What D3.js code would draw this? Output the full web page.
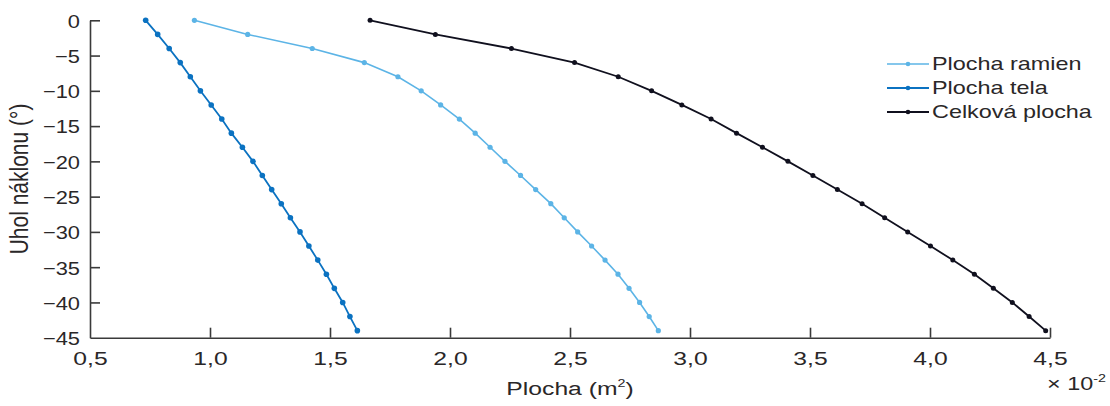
<!DOCTYPE html>
<html>
<head>
<meta charset="utf-8">
<script src="https://cdn.jsdelivr.net/npm/d3@7"></script>
<style>
  body { margin: 0; background: #fff; }
  svg text { font-family: "Liberation Sans", Arial, sans-serif; fill: #2a2728; }
</style>
</head>
<body>
<div id="chart"></div>
<script>
// tilt angle (deg) and areas (x 10^-2 m2)
let angles = [0, -2, -4, -6, -8, -10, -12, -14, -16, -18, -20, -22, -24, -26, -28, -30, -32, -34, -36, -38, -40, -42, -44]
let plochaRamien = [0.935, 1.157, 1.426, 1.643, 1.783, 1.880, 1.961, 2.039, 2.105, 2.167, 2.229, 2.294, 2.357, 2.420, 2.476, 2.532, 2.590, 2.646, 2.700, 2.746, 2.790, 2.830, 2.868]
let plochaTela = [0.732, 0.782, 0.830, 0.876, 0.918, 0.960, 1.005, 1.049, 1.089, 1.135, 1.179, 1.218, 1.257, 1.297, 1.335, 1.375, 1.412, 1.449, 1.485, 1.518, 1.553, 1.583, 1.614]
let celkovaPlocha = [1.667, 1.939, 2.256, 2.519, 2.701, 2.840, 2.966, 3.088, 3.194, 3.302, 3.408, 3.512, 3.614, 3.717, 3.811, 3.907, 4.002, 4.095, 4.185, 4.264, 4.343, 4.413, 4.482]
let xTicks = [0.5, 1.0, 1.5, 2.0, 2.5, 3.0, 3.5, 4.0, 4.5]
let yTicks = [0, -5, -10, -15, -20, -25, -30, -35, -40, -45]
let seriesNames = ['Plocha ramien', 'Plocha tela', 'Celková plocha']
let seriesColors = ['#5cb4e6', '#0b72c1', '#10101e']

let width = 1110, height = 406
let margin = {left: 90, right: 60, top: 20, bottom: 69}
// the reference text is drawn wider than plain Arial
let sx = 1.3

let svg = d3.select('#chart').append('svg')
    .attr('width', width)
    .attr('height', height)

let x = d3.scaleLinear().domain([0.5, 4.5]).range([margin.left, width - margin.right])
let y = d3.scaleLinear().domain([0, -45]).range([margin.top + 0.3, height - margin.bottom + 0.7])

let fmt = d => d3.format('.1f')(d).replace('.', ',')

// x axis, ticks pointing inward
let xAxis = svg.append('g')
    .attr('transform', `translate(0,${y(-45)})`)
    .call(d3.axisBottom(x).tickValues(xTicks).tickSize(-10).tickFormat(fmt).tickSizeOuter(0))
xAxis.selectAll('text')
    .attr('y', 0).attr('dy', 0)
    .attr('transform', `translate(0,27) scale(${sx},1)`)
    .style('font-size', '19px')

let yAxis = svg.append('g')
    .attr('transform', `translate(${x(0.5)},0)`)
    .call(d3.axisLeft(y).tickValues(yTicks).tickSize(-10).tickSizeOuter(0))
yAxis.selectAll('text')
    .attr('x', 0).attr('dy', '0.36em')
    .attr('transform', `translate(-10,0) scale(1.15,1)`)
    .style('font-size', '19px')

svg.selectAll('.domain').attr('stroke', '#3a3a3a').attr('stroke-width', 1.6)
svg.selectAll('.tick line').attr('stroke', '#3a3a3a').attr('stroke-width', 1.6)
// the corner ticks sit on the other axis, hide them
xAxis.selectAll('.tick').filter(d => d == 0.5).select('line').remove()
yAxis.selectAll('.tick').filter(d => d == -45).select('line').remove()

// lines + markers
let allSeries = [plochaRamien, plochaTela, celkovaPlocha]
let line = d3.line().x(d => x(d[0])).y(d => y(d[1]))
let widths = [1.6, 1.8, 1.8]
let radius = [2.6, 2.8, 2.5]

allSeries.forEach((vals, i) => {
    let pts = vals.map((v, k) => [v, angles[k]])
    svg.append('path')
        .datum(pts)
        .attr('d', line)
        .attr('fill', 'none')
        .attr('stroke', seriesColors[i])
        .attr('stroke-width', widths[i])
    svg.append('g').selectAll('circle')
        .data(pts)
        .enter()
        .append('circle')
        .attr('cx', d => x(d[0]))
        .attr('cy', d => y(d[1]))
        .attr('r', radius[i])
        .attr('fill', seriesColors[i])
})

// legend
let legend = svg.append('g').attr('transform', 'translate(887,64)')
seriesNames.forEach((name, i) => {
    let row = legend.append('g').attr('transform', `translate(0,${i * 24})`)
    row.append('line')
        .attr('x1', 0).attr('x2', 42)
        .attr('y1', 0).attr('y2', 0)
        .attr('stroke', seriesColors[i])
        .attr('stroke-width', widths[i])
    row.append('circle').attr('cx', 21).attr('cy', 0).attr('r', 2.3).attr('fill', seriesColors[i])
    row.append('text')
        .attr('transform', `translate(45,0) scale(${sx},1)`)
        .attr('dy', '0.36em')
        .style('font-size', '18px')
        .text(name)
})

// axis titles
svg.append('text')
    .attr('transform', `translate(28,${(y(0) + y(-45)) / 2}) rotate(-90) scale(1.05,1.25)`)
    .attr('text-anchor', 'middle')
    .style('font-size', '20px')
    .text('Uhol náklonu (°)')

let xTitle = svg.append('text')
    .attr('transform', `translate(${(x(0.5) + x(4.5)) / 2},395) scale(${sx},1)`)
    .attr('text-anchor', 'middle')
    .style('font-size', '19px')
xTitle.append('tspan').text('Plocha (m')
xTitle.append('tspan').attr('dy', -8).style('font-size', '11px').text('2')
xTitle.append('tspan').attr('dy', 8).text(')')

let expo = svg.append('text')
    .attr('transform', `translate(1047,390) scale(${sx},1)`)
    .style('font-size', '18px')
expo.append('tspan').text('× 10')
expo.append('tspan').attr('dy', -8).style('font-size', '11px').text('-2')
</script>
</body>
</html>
